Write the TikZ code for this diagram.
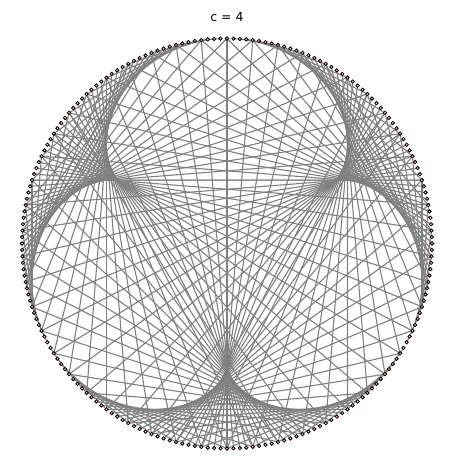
\documentclass[tikz,border=0pt]{standalone}
\usepackage{fontspec}
\setmainfont{DejaVu Sans}
\begin{document}
\begin{tikzpicture}[x=1pt,y=1pt,
  chord/.style={draw=gray, line width=1.1pt},
  dotmark/.style={circle, draw=black, fill=red!25, line width=0.8pt, inner sep=0pt, minimum size=3.4pt},
  titletext/.style={font=\fontsize{12.5}{14}\selectfont, inner sep=0pt}]
\useasboundingbox (-227,-226.5) rectangle (227,243.5);
\foreach \i in {0,...,199} {
  \coordinate (p\i) at ({90+1.8*\i}:205);
}
\foreach \i in {0,...,199} {
  \pgfmathtruncatemacro\j{mod(4*\i,200)}
  \draw[chord] (p\i) -- (p\j);
}
\foreach \i in {0,...,199} {
  \node[dotmark] (m\i) at (p\i) {};
}
\node[titletext] (title) at (0,226.5) {c = 4};
\end{tikzpicture}
\end{document}
